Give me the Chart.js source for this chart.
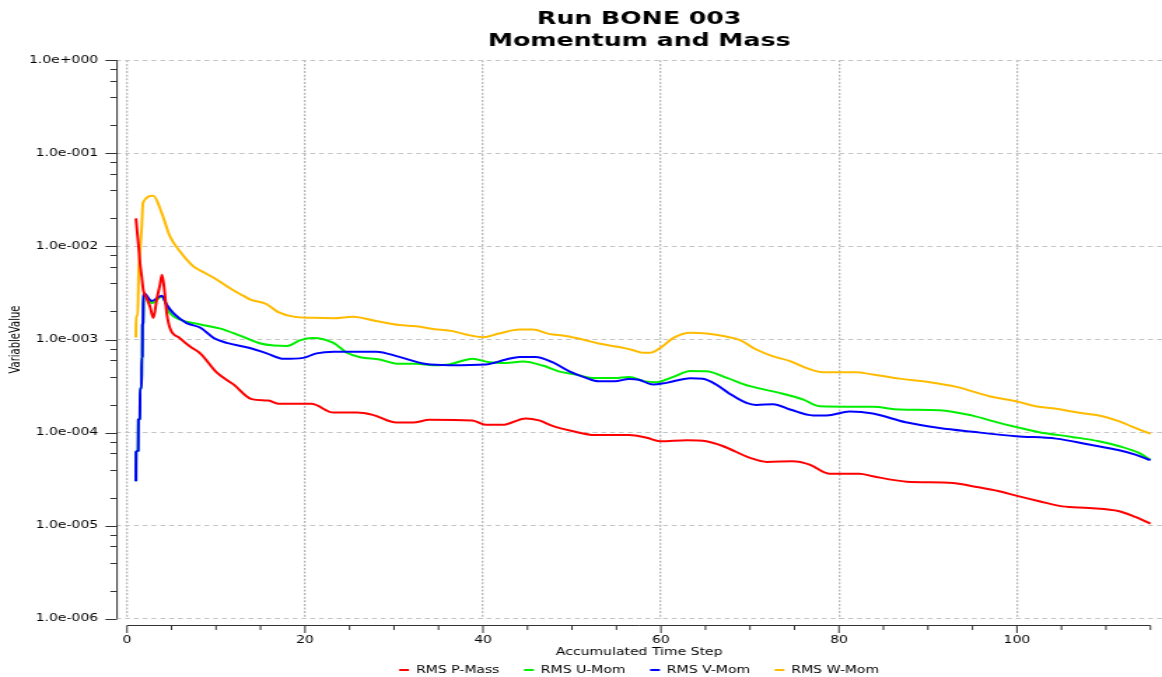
<!DOCTYPE html>
<html>
<head>
<meta charset="utf-8">
<script src="https://cdn.jsdelivr.net/npm/chart.js@4.4.1/dist/chart.umd.min.js"></script>
<style>
  html, body { margin: 0; padding: 0; background: #ffffff; }
  #c { display: block; width: 1162px !important; height: 677px !important; }
</style>
</head>
<body>
<canvas id="c" width="830" height="677" style="width:1162px;height:677px;display:block"></canvas>
<script>
// ---------------- data ----------------
const titleLines = ['Run BONE 003', 'Momentum and Mass'];
const xAxisTitle = 'Accumulated Time Step';
const yAxisTitle = 'VariableValue';
const seriesNames = ['RMS P-Mass', 'RMS U-Mom', 'RMS V-Mom', 'RMS W-Mom'];
const seriesColors = ['#ff0000', '#00ee00', '#0000ff', '#ffbb00'];

const xTickValues = [0, 20, 40, 60, 80, 100];
const xAxisTicks = [0, 5, 10, 15, 20, 25, 30, 35, 40, 45, 50, 55, 60, 65, 70, 75, 80, 85, 90, 95, 100, 105, 110, 115];
const yTickValues = [1e-6, 1e-5, 1e-4, 1e-3, 1e-2, 1e-1, 1];
const yTickLabels = ['1.0e-006', '1.0e-005', '1.0e-004', '1.0e-003', '1.0e-002', '1.0e-001', '1.0e+000'];
const yMinorFactors = [2, 4, 6, 8];

const pMassSteps = [1, 1.15, 1.3, 1.46, 1.65, 1.83, 2.2, 2.58, 2.96, 3.33, 3.7, 3.93, 4.2, 4.46, 4.83, 5.96, 7.08, 8.25, 10.1, 12.0, 14.0, 15.9, 17.0, 20.7, 23.2, 25.8, 27.6, 30.3, 32.1, 34.0, 38.8, 40.3, 42.2, 44.8, 46.3, 47.8, 50.0, 52.6, 56.4, 58.4, 59.9, 62.9, 65.1, 67.0, 70.0, 71.9, 74.8, 76.7, 78.9, 82.3, 83.8, 87.6, 92.8, 95.0, 98.0, 99.9, 102.5, 105.1, 108.1, 111.5, 113.3, 115];
const pMassValues = [2.0e-2, 1.4e-2, 1.0e-2, 6.6e-3, 4.75e-3, 3.4e-3, 2.78e-3, 2.26e-3, 1.7e-3, 2.67e-3, 3.87e-3, 4.96e-3, 3.4e-3, 1.92e-3, 1.32e-3, 1.03e-3, 8.4e-4, 7.06e-4, 4.4e-4, 3.27e-4, 2.29e-4, 2.21e-4, 2.04e-4, 2.04e-4, 1.64e-4, 1.64e-4, 1.55e-4, 1.28e-4, 1.28e-4, 1.37e-4, 1.35e-4, 1.21e-4, 1.21e-4, 1.42e-4, 1.35e-4, 1.18e-4, 1.04e-4, 9.4e-5, 9.4e-5, 8.8e-5, 8.07e-5, 8.28e-5, 8.07e-5, 7.13e-5, 5.35e-5, 4.84e-5, 4.92e-5, 4.53e-5, 3.62e-5, 3.62e-5, 3.39e-5, 2.97e-5, 2.88e-5, 2.65e-5, 2.34e-5, 2.1e-5, 1.83e-5, 1.61e-5, 1.55e-5, 1.43e-5, 1.24e-5, 1.05e-5];

const uMomSteps = [1, 1.02, 1.25, 1.28, 1.44, 1.47, 1.63, 1.66, 1.72, 1.74, 1.8, 1.85, 2.77, 3.9, 4.83, 5.96, 8.25, 10.5, 12.7, 15.0, 16.5, 18.0, 19.4, 20.9, 23.2, 24.7, 26.2, 28.4, 30.3, 32.5, 34.4, 36.2, 37.4, 38.8, 40.7, 42.6, 44.5, 46.7, 48.5, 50.4, 52.3, 54.8, 56.4, 58.2, 59.5, 61.4, 63.3, 65.1, 67.4, 70.0, 73.3, 76.0, 77.8, 83.8, 86.8, 91.3, 95.0, 98.0, 99.9, 102.5, 106.2, 109.2, 111.5, 113.7, 115];
const uMomValues = [3.0e-5, 6.2e-5, 6.4e-5, 1.38e-4, 1.4e-4, 3.0e-4, 3.0e-4, 6.6e-4, 6.6e-4, 1.44e-3, 1.5e-3, 3.1e-3, 2.46e-3, 2.9e-3, 1.92e-3, 1.63e-3, 1.45e-3, 1.31e-3, 1.10e-3, 9.05e-4, 8.6e-4, 8.5e-4, 9.8e-4, 1.04e-3, 9.2e-4, 7.2e-4, 6.45e-4, 6.1e-4, 5.5e-4, 5.5e-4, 5.3e-4, 5.4e-4, 5.8e-4, 6.2e-4, 5.7e-4, 5.6e-4, 5.8e-4, 5.25e-4, 4.55e-4, 4.2e-4, 3.85e-4, 3.85e-4, 3.95e-4, 3.55e-4, 3.48e-4, 3.97e-4, 4.6e-4, 4.57e-4, 3.87e-4, 3.15e-4, 2.67e-4, 2.26e-4, 1.92e-4, 1.89e-4, 1.77e-4, 1.74e-4, 1.52e-4, 1.27e-4, 1.15e-4, 1.01e-4, 8.98e-5, 8.07e-5, 7.13e-5, 6.04e-5, 5.1e-5];

const vMomSteps = [1, 1.02, 1.25, 1.28, 1.44, 1.47, 1.63, 1.66, 1.72, 1.74, 1.8, 1.85, 2.77, 3.9, 4.46, 5.2, 6.7, 8.25, 9.74, 11.2, 13.8, 15.7, 17.6, 19.8, 21.3, 23.2, 28.0, 30.6, 33.6, 36.2, 40.3, 42.6, 44.1, 45.9, 47.8, 49.7, 51.5, 53.0, 54.8, 56.4, 57.5, 59.1, 60.6, 63.3, 64.7, 66.2, 67.7, 69.6, 70.7, 72.6, 74.5, 77.1, 78.6, 81.2, 83.8, 87.5, 91.3, 95.0, 99.9, 104.4, 108.1, 111.5, 113.3, 115];
const vMomValues = [3.0e-5, 6.2e-5, 6.4e-5, 1.38e-4, 1.4e-4, 3.0e-4, 3.0e-4, 6.6e-4, 6.6e-4, 1.44e-3, 1.5e-3, 3.15e-3, 2.6e-3, 2.95e-3, 2.36e-3, 1.92e-3, 1.5e-3, 1.34e-3, 1.04e-3, 9.2e-4, 8.1e-4, 7.1e-4, 6.2e-4, 6.35e-4, 7.1e-4, 7.4e-4, 7.4e-4, 6.5e-4, 5.45e-4, 5.3e-4, 5.4e-4, 6.1e-4, 6.5e-4, 6.5e-4, 5.7e-4, 4.55e-4, 3.9e-4, 3.55e-4, 3.55e-4, 3.77e-4, 3.7e-4, 3.28e-4, 3.42e-4, 3.84e-4, 3.78e-4, 3.28e-4, 2.62e-4, 2.08e-4, 1.98e-4, 2.02e-4, 1.77e-4, 1.53e-4, 1.53e-4, 1.68e-4, 1.6e-4, 1.29e-4, 1.12e-4, 1.02e-4, 9.14e-5, 8.61e-5, 7.43e-5, 6.46e-5, 5.8e-5, 5.05e-5];

const wMomSteps = [1, 1.02, 1.2, 1.3, 1.5, 1.65, 1.8, 2.96, 3.9, 4.83, 5.96, 7.45, 8.25, 9.74, 11.9, 13.1, 13.8, 15.7, 17.0, 18.7, 20.9, 23.2, 25.4, 28.0, 30.6, 32.5, 34.4, 36.6, 38.1, 40.0, 41.8, 44.1, 45.6, 47.4, 49.3, 51.2, 53.0, 55.3, 56.8, 57.9, 58.8, 59.9, 61.4, 63.3, 65.1, 67.0, 68.9, 70.7, 72.6, 74.5, 76.3, 78.2, 81.9, 83.8, 86.8, 90.2, 93.2, 96.9, 99.9, 102.1, 104.4, 107.0, 109.6, 111.5, 113.3, 115];
const wMomValues = [1.05e-3, 1.8e-3, 1.8e-3, 5.0e-3, 1.0e-2, 1.6e-2, 2.95e-2, 3.5e-2, 2.28e-2, 1.28e-2, 8.8e-3, 6.1e-3, 5.5e-3, 4.6e-3, 3.4e-3, 2.94e-3, 2.7e-3, 2.39e-3, 1.97e-3, 1.76e-3, 1.71e-3, 1.69e-3, 1.76e-3, 1.58e-3, 1.43e-3, 1.39e-3, 1.30e-3, 1.23e-3, 1.13e-3, 1.06e-3, 1.16e-3, 1.28e-3, 1.28e-3, 1.15e-3, 1.09e-3, 1.0e-3, 9.05e-4, 8.3e-4, 7.7e-4, 7.2e-4, 7.2e-4, 8.1e-4, 1.04e-3, 1.18e-3, 1.16e-3, 1.09e-3, 9.85e-4, 7.8e-4, 6.6e-4, 5.85e-4, 4.95e-4, 4.45e-4, 4.45e-4, 4.2e-4, 3.8e-4, 3.48e-4, 3.1e-4, 2.46e-4, 2.17e-4, 1.92e-4, 1.8e-4, 1.63e-4, 1.5e-4, 1.32e-4, 1.12e-4, 9.7e-5];

// ---------------- chart ----------------
const toPoints = (steps, values) => steps.map((s, i) => ({ x: s, y: values[i] }));
const allSteps = [pMassSteps, uMomSteps, vMomSteps, wMomSteps];
const allValues = [pMassValues, uMomValues, vMomValues, wMomValues];
const drawOrder = [0, 2, 1, 3];

Chart.defaults.font.family = "'DejaVu Sans', Verdana, sans-serif";
Chart.defaults.font.size = 10;
Chart.defaults.color = '#000';

const axisColor = '#333333';
const offsetAxes = {
  id: 'offsetAxes',
  afterDraw(chart) {
    const { ctx, chartArea, scales } = chart;
    const xs = scales.x, ys = scales.y;
    ctx.save();
    ctx.strokeStyle = axisColor;
    ctx.lineWidth = 1;
    ctx.setLineDash([]);
    ctx.beginPath();
    // y axis line + ticks
    const ax = chartArea.left + 0.5;
    const yTop = ys.getPixelForValue(yTickValues[yTickValues.length - 1]);
    const yBot = ys.getPixelForValue(yTickValues[0]);
    ctx.moveTo(ax, yTop); ctx.lineTo(ax, yBot);
    yTickValues.forEach(v => {
      const p = Math.round(ys.getPixelForValue(v)) + 0.5;
      ctx.moveTo(ax - 8.3, p); ctx.lineTo(ax, p);
    });
    yTickValues.slice(0, -1).forEach(d => {
      yMinorFactors.forEach(f => {
        const p = Math.round(ys.getPixelForValue(d * f)) + 0.5;
        ctx.moveTo(ax - 4.8, p); ctx.lineTo(ax, p);
      });
    });
    // x axis line + ticks
    const ay = Math.round(chartArea.bottom + 6.5) + 0.5;
    const x0 = xs.getPixelForValue(xAxisTicks[0]);
    const x1 = xs.getPixelForValue(xAxisTicks[xAxisTicks.length - 1]);
    ctx.moveTo(x0, ay); ctx.lineTo(x1, ay);
    xAxisTicks.forEach(t => {
      const p = xs.getPixelForValue(t);
      const len = xTickValues.includes(t) ? 7.5 : 4.5;
      ctx.moveTo(p, ay); ctx.lineTo(p, ay + len);
    });
    ctx.stroke();
    ctx.restore();
  }
};

new Chart(document.getElementById('c'), {
  type: 'line',
  data: {
    datasets: seriesNames.map((name, i) => ({
      label: name,
      data: toPoints(allSteps[i], allValues[i]),
      borderColor: seriesColors[i],
      backgroundColor: seriesColors[i],
      borderWidth: 2,
      pointRadius: 0,
      fill: false,
      cubicInterpolationMode: 'monotone',
      order: drawOrder[i]
    }))
  },
  options: {
    responsive: false,
    animation: false,
    devicePixelRatio: 1,
    layout: { padding: 0 },
    plugins: {
      title: {
        display: true,
        text: titleLines,
        fullSize: false,
        color: '#000',
        font: { size: 18, weight: 'bold', lineHeight: 1.2 },
        padding: { top: 8.5, bottom: 8.6 }
      },
      legend: {
        display: true,
        position: 'bottom',
        fullSize: false,
        maxHeight: 29.5,
        labels: {
          usePointStyle: true,
          pointStyle: 'line',
          pointStyleWidth: 7,
          padding: 17.5,
          color: '#000',
          font: { size: 10 },
          sort: (a, b) => a.datasetIndex - b.datasetIndex
        }
      },
      tooltip: { enabled: false }
    },
    scales: {
      x: {
        type: 'linear',
        min: -1.2,
        max: 116.3,
        afterBuildTicks: (scale) => { scale.ticks = xTickValues.map(v => ({ value: v })); },
        afterFit: (scale) => { scale.height = 28.8; },
        ticks: {
          autoSkip: false,
          maxRotation: 0,
          padding: 15.3,
          color: '#000',
          callback: (v) => String(v)
        },
        grid: { color: '#b8b8b8', lineWidth: 1.3, drawTicks: false },
        border: { display: false, dash: [2, 1.6] },
        title: {
          display: true,
          text: xAxisTitle,
          color: '#000',
          font: { size: 10 },
          padding: { top: 0, bottom: -10.5 }
        }
      },
      y: {
        type: 'logarithmic',
        min: 1e-6,
        max: 1,
        afterBuildTicks: (scale) => { scale.ticks = yTickValues.map(v => ({ value: v })); },
        afterFit: (scale) => { scale.width = 83.1; },
        ticks: {
          autoSkip: false,
          padding: 12.9,
          color: '#000',
          callback: (v, i) => yTickLabels[i]
        },
        grid: { color: '#c4c4c4', lineWidth: 1, drawTicks: false },
        border: { display: false, dash: [3.5, 2.8] },
        title: {
          display: true,
          text: yAxisTitle,
          color: '#000',
          font: { size: 10 },
          padding: { top: 5.9, bottom: 0 }
        }
      }
    }
  },
  plugins: [offsetAxes]
});
</script>
</body>
</html>
